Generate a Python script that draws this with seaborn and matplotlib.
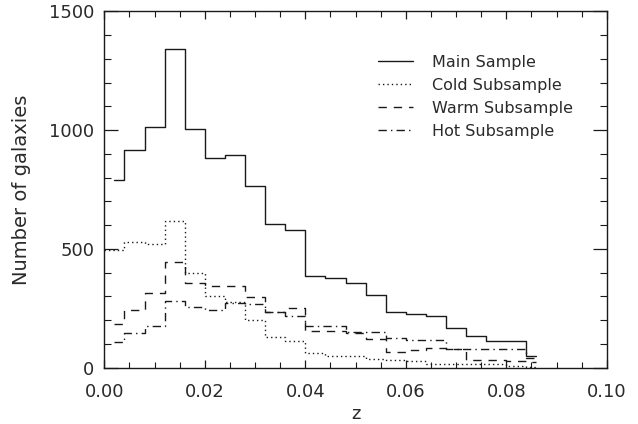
import numpy as np
import pandas as pd
import matplotlib
matplotlib.use("Agg")
import matplotlib.pyplot as plt
from matplotlib.ticker import MultipleLocator
import seaborn as sns

# bin centres (redshift)
z_centers = [0.002, 0.006, 0.010, 0.014, 0.018, 0.022, 0.026, 0.030, 0.034, 0.038,
             0.042, 0.046, 0.050, 0.054, 0.058, 0.062, 0.066, 0.070, 0.074, 0.078,
             0.082, 0.086]
main_counts = [790, 916, 1013, 1341, 1007, 885, 897, 765, 605, 581,
               386, 379, 355, 308, 236, 226, 218, 166, 134, 114, 114, 48]
cold_counts = [496, 530, 522, 617, 400, 302, 278, 201, 131, 112,
               61, 51, 51, 35, 33, 30, 17, 16, 15, 15, 6, 4]
warm_counts = [184, 243, 315, 444, 356, 342, 345, 299, 236, 250,
               155, 155, 147, 120, 68, 75, 82, 78, 31, 31, 28, 22]
hot_counts = [110, 145, 176, 281, 254, 242, 271, 267, 236, 218,
              176, 176, 150, 150, 124, 118, 118, 78, 78, 78, 80, 40]
cold_z_start = [0.000]
cold_first = [496]

series_labels = ["Main Sample", "Cold Subsample", "Warm Subsample", "Hot Subsample"]
x_ticks = [0.00, 0.02, 0.04, 0.06, 0.08, 0.10]
y_ticks = [0, 500, 1000, 1500]

sns.set_style("white")
plt.rcParams['font.family'] = ['DejaVu Sans']

fig = plt.figure(figsize=(6.38, 4.24), dpi=100)
ax = fig.add_axes([0.1635, 0.1328, 0.7876, 0.8401])

ink = "#1a1a1a"
txt = "#2a2a2a"
styles = {
    "Main Sample": "-",
    "Cold Subsample": (0, (1.0, 2.2)),
    "Warm Subsample": (0, (6, 5)),
    "Hot Subsample": (0, (6, 3, 1, 3)),
}

data = {
    "Main Sample": (z_centers, main_counts),
    "Cold Subsample": (cold_z_start + z_centers, cold_first + cold_counts),
    "Warm Subsample": (z_centers, warm_counts),
    "Hot Subsample": (z_centers, hot_counts),
}

for lab in series_labels:
    zz, cc = data[lab]
    df = pd.DataFrame({"z": zz, "n": cc})
    sns.lineplot(data=df, x="z", y="n", ax=ax, color=ink, linewidth=1.0,
                 linestyle=styles[lab], drawstyle="steps-mid", label=lab,
                 sort=False, estimator=None)

ax.set_xlim(0, 0.1)
ax.set_ylim(0, 1500)
ax.set_xticks(x_ticks)
ax.set_xticklabels([f"{t:.2f}" for t in x_ticks])
ax.set_yticks(y_ticks)
ax.set_yticklabels([str(t) for t in y_ticks])
ax.xaxis.set_minor_locator(MultipleLocator(0.005))
ax.yaxis.set_minor_locator(MultipleLocator(100))
ax.tick_params(axis="x", which="major", direction="in", length=6, width=0.9,
               top=True, bottom=True, labelsize=13, pad=11, color=ink,
               labelcolor=txt)
ax.tick_params(axis="x", which="minor", direction="in", length=4, width=0.8,
               top=True, bottom=True, color=ink)
ax.tick_params(axis="y", which="major", direction="in", length=10, width=0.9,
               left=True, right=True, labelsize=13, pad=7, color=ink,
               labelcolor=txt)
ax.tick_params(axis="y", which="minor", direction="in", length=5, width=0.8,
               left=True, right=True, color=ink)
for sp in ax.spines.values():
    sp.set_visible(True)
    sp.set_color(ink)
    sp.set_linewidth(1.0)

ax.set_xlabel("z", fontsize=13, color=txt, labelpad=3)
ax.set_ylabel("Number of galaxies", fontsize=14, color=txt, labelpad=13)

leg = ax.legend(loc="upper left", bbox_to_anchor=(0.545, 0.878), frameon=False,
                fontsize=11.5, handlelength=2.2, handletextpad=1.2,
                labelspacing=0.5, borderaxespad=0, borderpad=0)
for t in leg.get_texts():
    t.set_color(txt)

fig.savefig("out.png", dpi=100)
